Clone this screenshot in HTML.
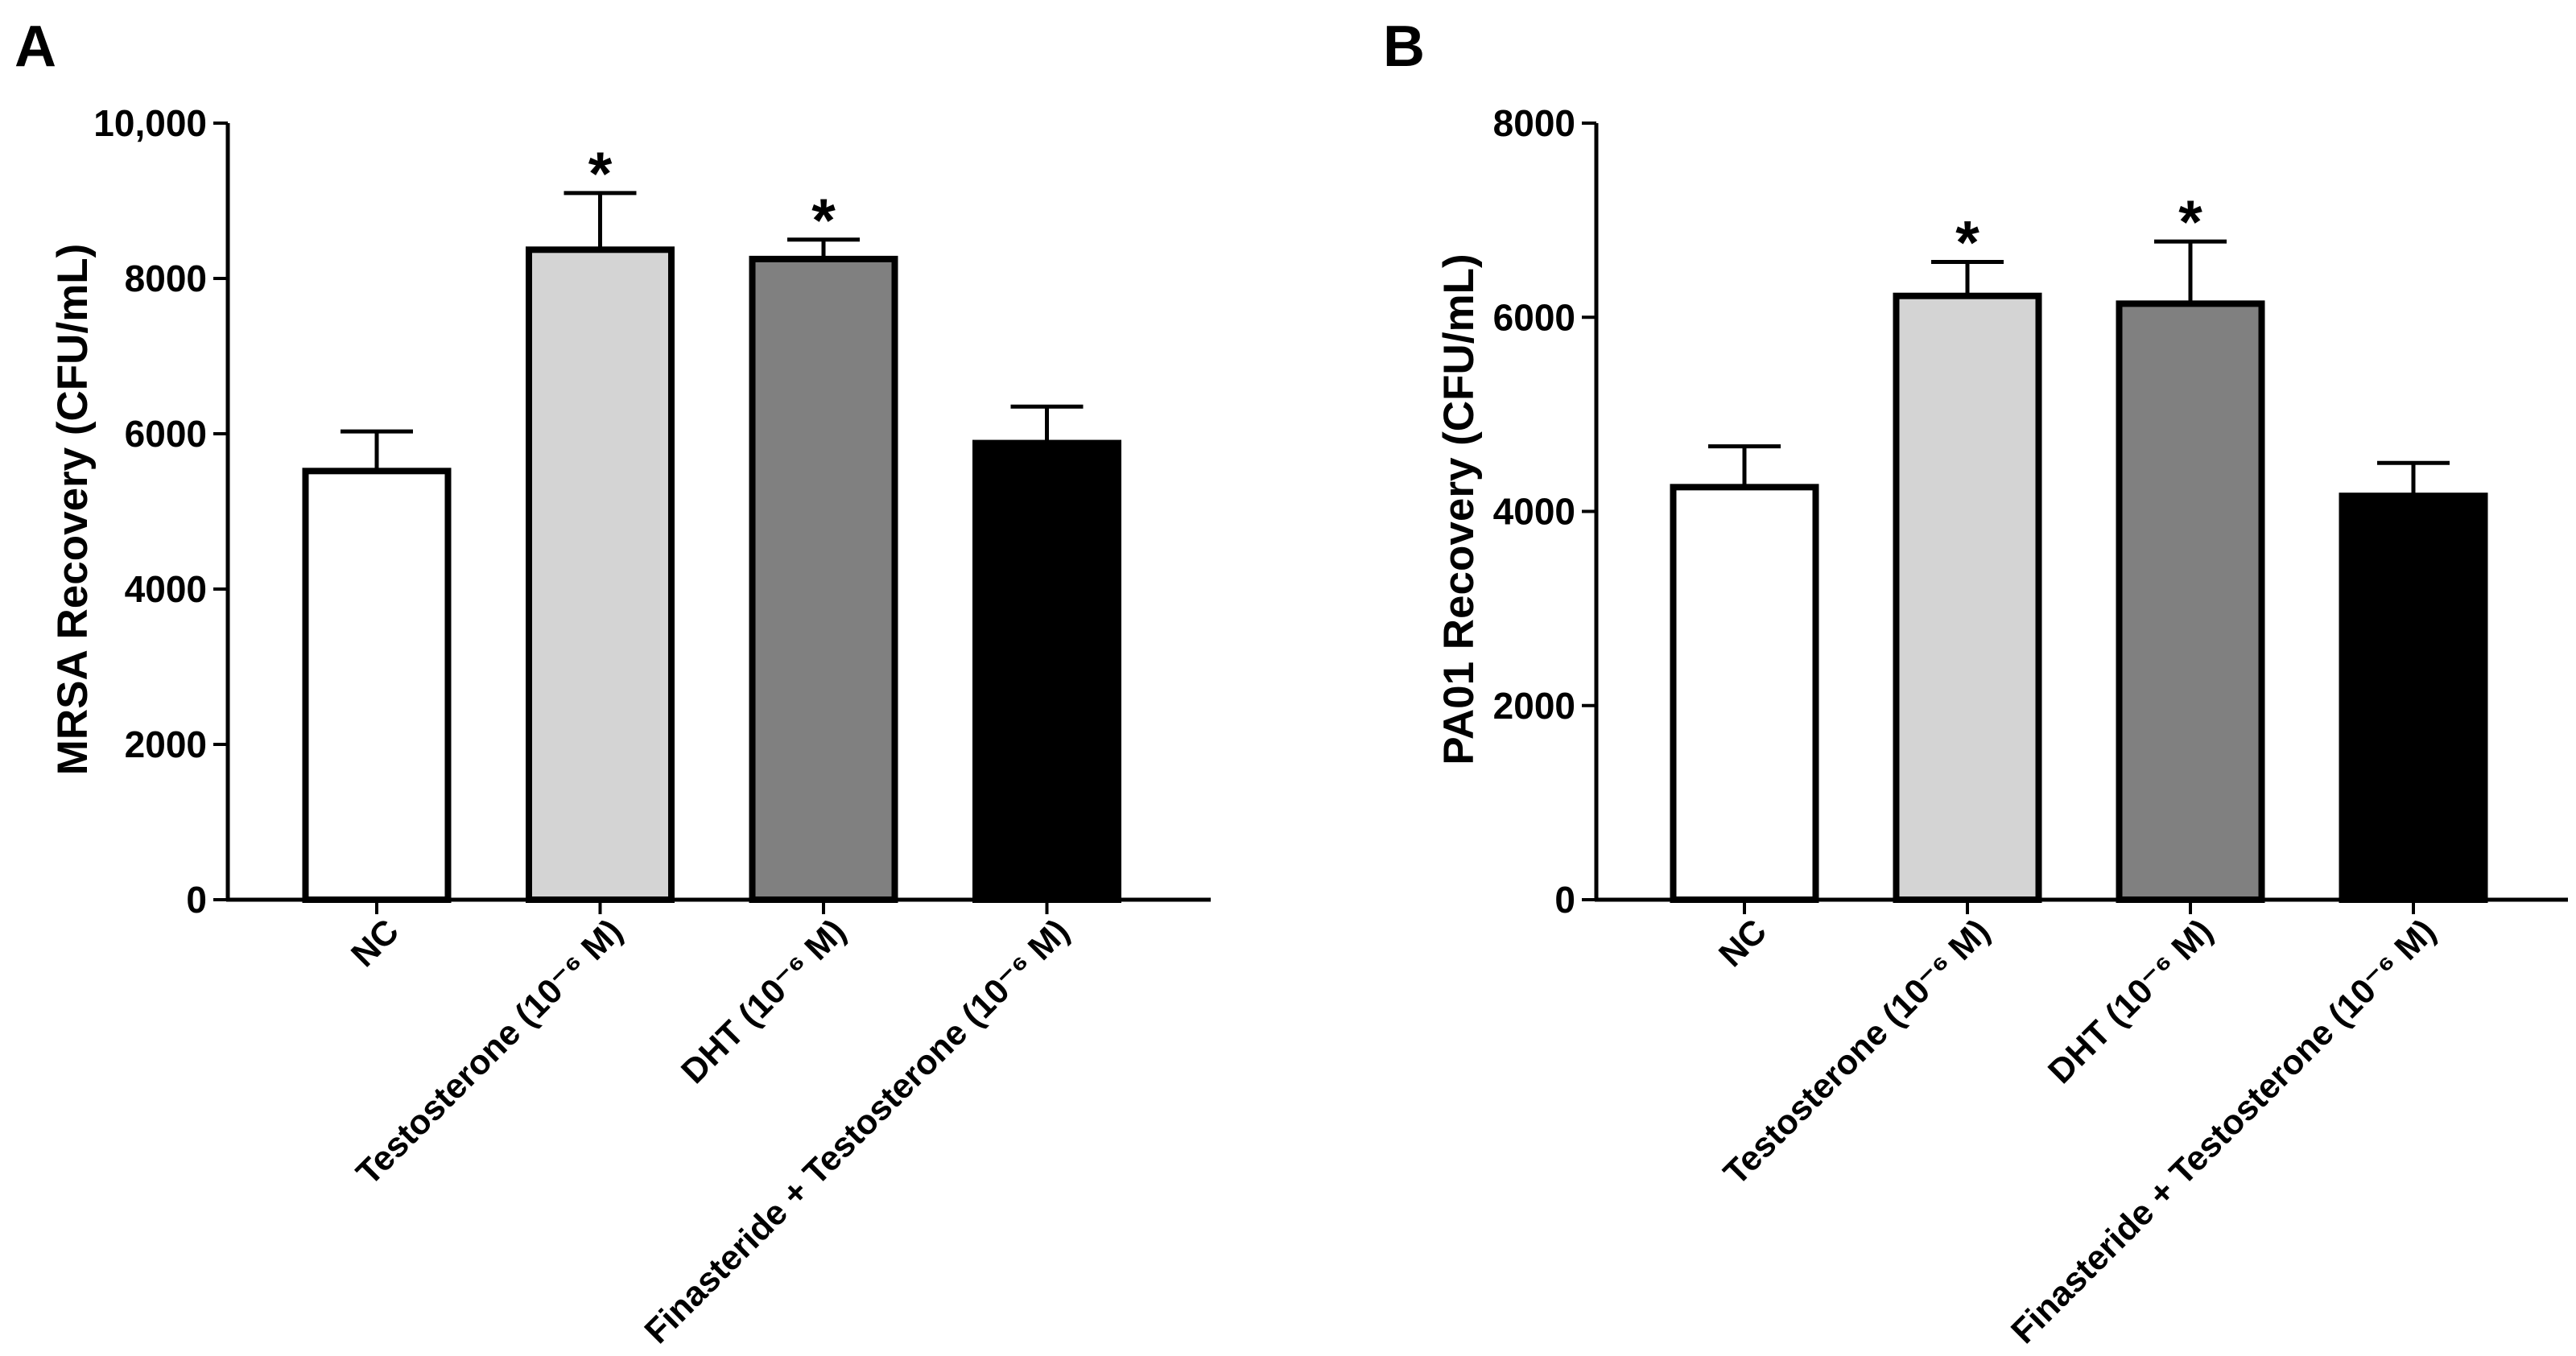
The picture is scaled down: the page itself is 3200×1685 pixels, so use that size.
<!DOCTYPE html>
<html><head><meta charset="utf-8"><style>
html,body{margin:0;padding:0;background:#fff;}
svg{display:block;font-family:"Liberation Sans",Arial,sans-serif;font-weight:bold;}
</style></head><body>
<svg id="chart" width="3200" height="1685" viewBox="0 0 3200 1685" xmlns="http://www.w3.org/2000/svg"></svg>
<script>
const categories = ["NC", "Testosterone (10\u207B\u2076 M)", "DHT (10\u207B\u2076 M)", "Finasteride + Testosterone (10\u207B\u2076 M)"];
const fills = ["#ffffff", "#d4d4d4", "#808080", "#000000"];
const mrsaValues = [5520, 8370, 8250, 5880];
const mrsaErrors = [510, 730, 250, 470];
const mrsaSig = [false, true, true, false];
const mrsaTicks = [0, 2000, 4000, 6000, 8000, 10000];
const mrsaTickLabels = ["0", "2000", "4000", "6000", "8000", "10,000"];
const pa01Values = [4250, 6220, 6140, 4160];
const pa01Errors = [420, 350, 640, 340];
const pa01Sig = [false, true, true, false];
const pa01Ticks = [0, 2000, 4000, 6000, 8000];
const pa01TickLabels = ["0", "2000", "4000", "6000", "8000"];

const NS = "http://www.w3.org/2000/svg";
const svg = document.getElementById("chart");
function mk(tag, attrs, parent) {
  const e = document.createElementNS(NS, tag);
  for (const k in attrs) e.setAttribute(k, attrs[k]);
  (parent || svg).appendChild(e);
  return e;
}

function panel(o) {
  const g = mk("g", {});
  
  
  const y0 = 1118, yTop = 153;
  const yScale = v => y0 - (v / o.max) * (y0 - yTop);
  const xScale = i => o.x0 + o.first + i * o.step;
  const bw = 177;

  const letter = mk("text", {x: o.letterX, y: 82, "font-size": 72}, g);
  letter.textContent = o.letter;
  
  

  const yt = mk("text", {x: 0, y: 0, "font-size": 53, "text-anchor": "middle",
    transform: `translate(${o.titleX},633) rotate(-90)`}, g);
  yt.textContent = o.title;
  
  

  o.values.forEach((v, i) => {
    const cx = xScale(i);
    const top = yScale(v);
    const errTop = yScale(v + o.errors[i]);
    const eb = mk("g", {}, g);
    
    
    mk("line", {x1: cx, x2: cx, y1: top, y2: errTop, stroke: "#000", "stroke-width": 5}, eb);
    mk("line", {x1: cx - 45, x2: cx + 45, y1: errTop, y2: errTop, stroke: "#000", "stroke-width": 5}, eb);
    const r = mk("rect", {x: cx - bw / 2, y: top, width: bw, height: y0 - top,
      fill: fills[i], stroke: "#000", "stroke-width": 8}, g);
    
    
    if (o.sig[i]) {
      const s = mk("text", {x: cx, y: errTop + 2, "font-size": 76, "text-anchor": "middle"}, g);
      s.textContent = "*";
      
      
    }
    mk("line", {x1: cx, x2: cx, y1: y0, y2: y0 + 18, stroke: "#000", "stroke-width": 4}, g);
    const lb = mk("text", {x: 0, y: 0, "font-size": 43, "text-anchor": "end",
      transform: `translate(${cx + 30},${y0 + 42}) rotate(-45)`}, g);
    lb.textContent = categories[i];
    
    
  });

  const ya = mk("line", {x1: o.x0, x2: o.x0, y1: yTop, y2: y0 + 2, stroke: "#000", "stroke-width": 5}, g);
  
  
  const xa = mk("line", {x1: o.x0 - 2, x2: o.xEnd, y1: y0, y2: y0, stroke: "#000", "stroke-width": 5}, g);
  
  
  o.ticks.forEach((t, i) => {
    const y = yScale(t);
    mk("line", {x1: o.x0 - 18, x2: o.x0, y1: y, y2: y, stroke: "#000", "stroke-width": 4}, g);
    const tl = mk("text", {x: o.x0 - 26, y: y + 16, "font-size": 46, "text-anchor": "end"}, g);
    tl.textContent = o.tickLabels[i];
    
    
  });
}

panel({name: "panel-a-mrsa", letter: "A", letterX: 18, title: "MRSA Recovery (CFU/mL)", titleX: 108,
  x0: 283, xEnd: 1504, first: 185, step: 277.5, max: 10000,
  values: mrsaValues, errors: mrsaErrors, sig: mrsaSig, ticks: mrsaTicks, tickLabels: mrsaTickLabels});
panel({name: "panel-b-pa01", letter: "B", letterX: 1718, title: "PA01 Recovery (CFU/mL)", titleX: 1830,
  x0: 1983, xEnd: 3190, first: 184, step: 277, max: 8000,
  values: pa01Values, errors: pa01Errors, sig: pa01Sig, ticks: pa01Ticks, tickLabels: pa01TickLabels});
</script>
</body></html>
